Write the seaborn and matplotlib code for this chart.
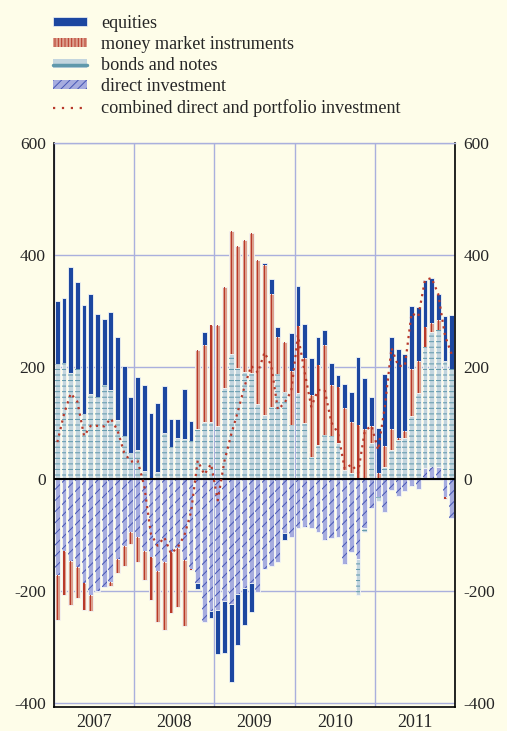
import numpy as np
import matplotlib
matplotlib.use("Agg")
import matplotlib.pyplot as plt
import seaborn as sns
from matplotlib.patches import Patch
from matplotlib.lines import Line2D

# monthly data, Jan 2007 - Dec 2011 (EUR billions, 12-month flows)
years = ['2007', '2008', '2009', '2010', '2011']

equities = [113, 115, 188, 155, 195, 178, 149, 118, 140, 149, 126, 100,
            130, 153, 116, 124, 84, 50, 34, 90, 36, -12, 23, -13,
            -80, -94, -140, -91, -66, -52, 0, 3, 28, 18, -13, 67,
            72, 60, 67, 49, 28, 39, 21, 44, 54, 122, 90, 51,
            81, 128, 164, 159, 138, 113, 97, 83, 80, 46, 81, 97]
money_market = [-81, -79, -79, -56, -49, -28, 0, 0, -8, -24, -35, -22,
                -45, -52, -77, -90, -122, -110, -105, -117, -3, 141, 138, 173,
                180, 181, 219, 217, 234, 250, 257, 269, 202, 67, 89, 97,
                120, 117, 110, 143, 160, 92, 101, 110, 91, 96, 90, 31,
                11, 37, 38, 3, 12, 84, 56, 37, 16, 18, -3, 0]
bonds = [205, 208, 190, 196, 116, 152, 146, 168, 159, 105, 76, 47,
         52, 15, 2, 12, 82, 57, 73, 71, 68, 89, 102, 102,
         95, 162, 223, 199, 192, 189, 134, 114, 128, 187, 156, 96,
         153, 100, 40, 61, 79, 76, 64, 16, 11, -64, -6, 64,
         -8, 22, 52, 70, 73, 112, 154, 216, 242, 244, 210, 196]
direct = [-171, -128, -146, -157, -185, -207, -200, -192, -183, -143, -120, -94,
          -104, -128, -139, -165, -148, -130, -124, -145, -160, -185, -255, -235,
          -233, -217, -223, -205, -195, -185, -201, -160, -155, -148, -96, -103,
          -88, -86, -88, -94, -108, -106, -104, -152, -130, -143, -88, -51,
          -32, -58, -20, -30, -21, -13, -17, 19, 21, 22, -32, -70]

combined = np.array(equities) + np.array(money_market) + np.array(bonds) + np.array(direct)
x = np.arange(len(equities))

bg = '#fefde9'
c_eq = '#1c47a0'
c_mm = '#dc9f8c'
c_mm_line = '#b8392a'
c_bo = '#c3d5de'
c_bo_hatch = '#5f98ab'
c_di = '#a6acdf'
c_di_hatch = '#4656b4'
c_grid = '#aab0dd'

sns.set_style("white")
plt.rcParams['font.family'] = ['Liberation Serif', 'DejaVu Serif']
plt.rcParams['axes.unicode_minus'] = False
plt.rcParams['hatch.linewidth'] = 0.7

fig = plt.figure(figsize=(5.07, 7.31), dpi=100, facecolor=bg)
ax = fig.add_axes([54 / 507, 1 - 707 / 731, 401 / 507, 564 / 731])
ax.set_facecolor(bg)

# stacked by sign: direct, bonds, money market, equities
pos = np.zeros(len(x))
neg = np.zeros(len(x))
bottoms = {}
for name, vals in [('direct', direct), ('bonds', bonds), ('mm', money_market), ('eq', equities)]:
    v = np.array(vals, dtype=float)
    b = np.where(v >= 0, pos, neg)
    bottoms[name] = b
    pos = pos + np.where(v >= 0, v, 0)
    neg = neg + np.where(v < 0, v, 0)

w = 0.72
edge = '#f4f6f6'
ax.bar(x, direct, bottom=bottoms['direct'], width=w, color=c_di, edgecolor=edge, linewidth=0.6, zorder=2)
ax.bar(x, direct, bottom=bottoms['direct'], width=w, facecolor='none', edgecolor=c_di_hatch,
       linewidth=0, hatch='///', zorder=2.1)
ax.bar(x, bonds, bottom=bottoms['bonds'], width=w, color=c_bo, edgecolor=edge, linewidth=0.6, zorder=2)
ax.bar(x, bonds, bottom=bottoms['bonds'], width=w, facecolor='none', edgecolor=c_bo_hatch,
       linewidth=0, hatch='---', zorder=2.1)
ax.bar(x, money_market, bottom=bottoms['mm'], width=w, color=c_mm, edgecolor=edge, linewidth=0.6, zorder=2)
ax.bar(x, money_market, bottom=bottoms['mm'], width=0.18, color=c_mm_line, linewidth=0, zorder=2.1)
ax.bar(x, equities, bottom=bottoms['eq'], width=w, color=c_eq, edgecolor=edge, linewidth=0.6, zorder=2)

sns.lineplot(x=x, y=combined, ax=ax, color=c_mm_line, linewidth=1.6,
             linestyle=(0, (1, 2)), zorder=3)

ax.axhline(0, color='black', linewidth=1.5, zorder=2.5)

ax.set_xlim(-0.5, len(x) - 0.5)
ax.set_ylim(-407, 600)
ax.set_yticks([-400, -200, 0, 200, 400, 600])
ax.tick_params(axis='y', length=0, labelsize=12.5, labelleft=True, labelright=True, pad=6)

bounds = [-0.5, 11.5, 23.5, 35.5, 47.5, 59.5]
ax.set_xticks(bounds)
ax.set_xticklabels([])
ax.set_xticks([5.5, 17.5, 29.5, 41.5, 53.5], minor=True)
ax.set_xticklabels(years, minor=True)
ax.tick_params(axis='x', which='major', length=6, width=1.2, direction='out', color='black')
ax.tick_params(axis='x', which='minor', length=0, labelsize=13, pad=5)

ax.grid(True, which='major', color=c_grid, linewidth=1)
ax.set_axisbelow(True)

for s in ['left', 'right', 'bottom']:
    ax.spines[s].set_color('black')
    ax.spines[s].set_linewidth(1.2)
ax.spines['top'].set_color(c_grid)
ax.spines['top'].set_linewidth(1)

handles = [
    Patch(facecolor=c_eq, edgecolor=edge, linewidth=0.5),
    Patch(facecolor=c_mm, edgecolor=c_mm_line, linewidth=0, hatch='|||||'),
    (Patch(facecolor=c_bo, linewidth=0), Line2D([], [], color=c_bo_hatch, linewidth=2.5)),
    Patch(facecolor=c_di, edgecolor=c_di_hatch, linewidth=0, hatch='////'),
    Line2D([], [], color=c_mm_line, linewidth=1.6, linestyle=(0, (1, 3))),
]
labels = ['equities', 'money market instruments', 'bonds and notes',
          'direct investment', 'combined direct and portfolio investment']
fig.legend(handles, labels, loc='upper left', bbox_to_anchor=(0.1045, 0.979),
           frameon=False, fontsize=13.1, handlelength=1.87, handleheight=0.4,
           handletextpad=0.77, labelspacing=0.22, borderaxespad=0, borderpad=0)

fig.savefig('out.png', dpi=100, facecolor=bg)
